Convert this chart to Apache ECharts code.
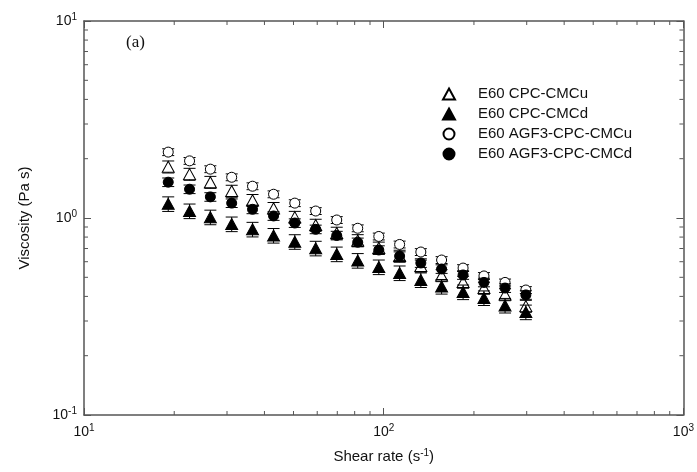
<!DOCTYPE html>
<html>
<head>
<meta charset="utf-8">
<script src="https://cdn.jsdelivr.net/npm/echarts@6/dist/echarts.min.js"></script>
<style>
    * { margin: 0; padding: 0; }
    #main { width: 697px; height: 472px; background: #fff; }
</style>
</head>
<body>
<div id="main"></div>
<script type="text/javascript">
    // shear rate (1/s) and viscosity (Pa s)
    var shearRate = [19.1, 22.5, 26.4, 31.1, 36.5, 42.9, 50.5, 59.3, 69.7, 81.9, 96.3, 113, 133, 156, 184, 216, 254, 298];
    var cpcU = [1.82, 1.67, 1.52, 1.37, 1.23, 1.12, 1.01, 0.921, 0.839, 0.769, 0.705, 0.641, 0.571, 0.511, 0.473, 0.441, 0.409, 0.357];
    var cpcD = [1.18, 1.085, 1.01, 0.932, 0.876, 0.815, 0.758, 0.702, 0.656, 0.608, 0.564, 0.526, 0.485, 0.449, 0.421, 0.393, 0.360, 0.333];
    var agfU = [2.16, 1.95, 1.77, 1.61, 1.45, 1.32, 1.19, 1.085, 0.977, 0.887, 0.806, 0.734, 0.672, 0.612, 0.557, 0.508, 0.471, 0.431];
    var agfD = [1.52, 1.40, 1.28, 1.19, 1.107, 1.024, 0.943, 0.876, 0.815, 0.753, 0.688, 0.641, 0.591, 0.551, 0.514, 0.471, 0.441, 0.407];
    // relative size of the error bars of each series
    var relErr = [0.07, 0.085, 0.04, 0.05];
    var seriesNames = ['E60 CPC-CMCu', 'E60 CPC-CMCd', 'E60 AGF3-CPC-CMCu', 'E60 AGF3-CPC-CMCd'];
    var xMinorTicks = [20, 30, 40, 50, 60, 70, 80, 90, 200, 300, 400, 500, 600, 700, 800, 900];
    var yMinorTicks = [0.2, 0.3, 0.4, 0.5, 0.6, 0.7, 0.8, 0.9, 2, 3, 4, 5, 6, 7, 8, 9];

    var myChart = echarts.init(document.getElementById('main'));
    var allY = [cpcU, cpcD, agfU, agfD];
    var symbols = ['triangle', 'triangle', 'circle', 'circle'];
    var sizes = [[12, 11], [12, 11], 10, 10];
    var filled = [false, true, false, true];
    var font = 'Liberation Sans';
    var axisColor = '#555';

    function powLabel(v) {
        var e = Math.round(Math.log(v) / Math.LN10);
        return '{b|10}{s|' + e + '}';
    }
    var richLab = {
        b: { fontSize: 14, fontFamily: font, color: '#111' },
        s: { fontSize: 10, fontFamily: font, color: '#111', padding: [0, 0, 8, 0] }
    };

    function errorBar(params, api) {
        var x = api.value(0);
        var lo = api.coord([x, api.value(1)]);
        var hi = api.coord([x, api.value(2)]);
        var w = 6;
        var st = { stroke: '#000', lineWidth: 1 };
        return {
            type: 'group',
            children: [
                { type: 'line', shape: { x1: lo[0], y1: lo[1], x2: hi[0], y2: hi[1] }, style: st },
                { type: 'line', shape: { x1: hi[0] - w, y1: hi[1], x2: hi[0] + w, y2: hi[1] }, style: st },
                { type: 'line', shape: { x1: lo[0] - w, y1: lo[1], x2: lo[0] + w, y2: lo[1] }, style: st }
            ]
        };
    }

    // minor ticks on all four sides of the box
    function xTick(params, api) {
        var cs = params.coordSys;
        var px = api.coord([api.value(0), 1])[0];
        var st = { stroke: axisColor, lineWidth: 1 };
        return {
            type: 'group',
            children: [
                { type: 'line', shape: { x1: px, y1: cs.y + cs.height, x2: px, y2: cs.y + cs.height - 4 }, style: st },
                { type: 'line', shape: { x1: px, y1: cs.y, x2: px, y2: cs.y + 4 }, style: st }
            ]
        };
    }
    function yTick(params, api) {
        var cs = params.coordSys;
        var py = api.coord([100, api.value(0)])[1];
        var st = { stroke: axisColor, lineWidth: 1 };
        return {
            type: 'group',
            children: [
                { type: 'line', shape: { x1: cs.x, y1: py, x2: cs.x + 4, y2: py }, style: st },
                { type: 'line', shape: { x1: cs.x + cs.width, y1: py, x2: cs.x + cs.width - 4, y2: py }, style: st }
            ]
        };
    }

    var series = [];
    for (var i = 0; i < 4; i++) {
        var errData = [];
        var ptData = [];
        for (var j = 0; j < shearRate.length; j++) {
            var v = allY[i][j];
            errData.push([shearRate[j], v * (1 - relErr[i]), v * (1 + relErr[i])]);
            ptData.push([shearRate[j], v]);
        }
        series.push({
            type: 'custom',
            renderItem: errorBar,
            data: errData,
            encode: { x: 0, y: [1, 2] },
            z: 2 + i * 2,
            silent: true
        });
        series.push({
            name: seriesNames[i],
            type: 'scatter',
            symbol: symbols[i],
            symbolSize: sizes[i],
            data: ptData,
            z: 3 + i * 2,
            itemStyle: {
                color: filled[i] ? '#000' : '#fff',
                borderColor: '#000',
                borderWidth: 1,
                opacity: 1
            }
        });
    }
    series.push({
        type: 'custom', renderItem: xTick, silent: true, z: 20,
        data: xMinorTicks.map(function (t) { return [t]; }),
        encode: { x: 0 }
    });
    series.push({
        type: 'custom', renderItem: yTick, silent: true, z: 20,
        data: yMinorTicks.map(function (t) { return [t]; }),
        encode: { y: 0 }
    });

    var option = {
        animation: false,
        backgroundColor: '#fff',
        textStyle: { fontFamily: font },
        grid: { left: 84, right: 12, top: 21, bottom: 57 },
        legend: {
            orient: 'vertical',
            left: 437,
            top: 81,
            itemWidth: 12,
            itemHeight: 11,
            itemGap: 4,
            data: seriesNames,
            textStyle: { fontSize: 15, color: '#111', lineHeight: 16, padding: [0, 0, 0, 18] }
        },
        graphic: [{
            type: 'text',
            left: 126,
            top: 34,
            style: { text: '(a)', font: '17px "Liberation Serif"', fill: '#111' }
        }],
        xAxis: [{
            type: 'log',
            min: 10,
            max: 1000,
            name: '{n|Shear rate (s}{s|-1}{n|)}',
            nameLocation: 'middle',
            nameGap: 33,
            nameTextStyle: {
                rich: {
                    n: { fontSize: 15, fontFamily: font, color: '#111' },
                    s: { fontSize: 10, fontFamily: font, color: '#111', padding: [0, 0, 8, 0] }
                }
            },
            axisLine: { lineStyle: { color: axisColor, width: 1.5 } },
            axisTick: { inside: true, length: 7, lineStyle: { color: axisColor } },
            axisLabel: { formatter: powLabel, rich: richLab, margin: 8 },
            splitLine: { show: false }
        }, {
            type: 'log',
            min: 10,
            max: 1000,
            position: 'top',
            axisLine: { lineStyle: { color: axisColor, width: 1.5 } },
            axisTick: { inside: true, length: 7, lineStyle: { color: axisColor } },
            axisLabel: { show: false },
            splitLine: { show: false }
        }],
        yAxis: [{
            type: 'log',
            min: 0.1,
            max: 10,
            name: 'Viscosity (Pa s)',
            nameLocation: 'middle',
            nameGap: 52,
            nameRotate: 90,
            nameTextStyle: { fontSize: 15, fontFamily: font, color: '#111' },
            axisLine: { lineStyle: { color: axisColor, width: 1.5 } },
            axisTick: { inside: true, length: 7, lineStyle: { color: axisColor } },
            axisLabel: { formatter: powLabel, rich: richLab, margin: 7 },
            splitLine: { show: false }
        }, {
            type: 'log',
            min: 0.1,
            max: 10,
            position: 'right',
            axisLine: { lineStyle: { color: axisColor, width: 1.5 } },
            axisTick: { inside: true, length: 7, lineStyle: { color: axisColor } },
            axisLabel: { show: false },
            splitLine: { show: false }
        }],
        series: series
    };

    myChart.setOption(option);
</script>
</body>
</html>
